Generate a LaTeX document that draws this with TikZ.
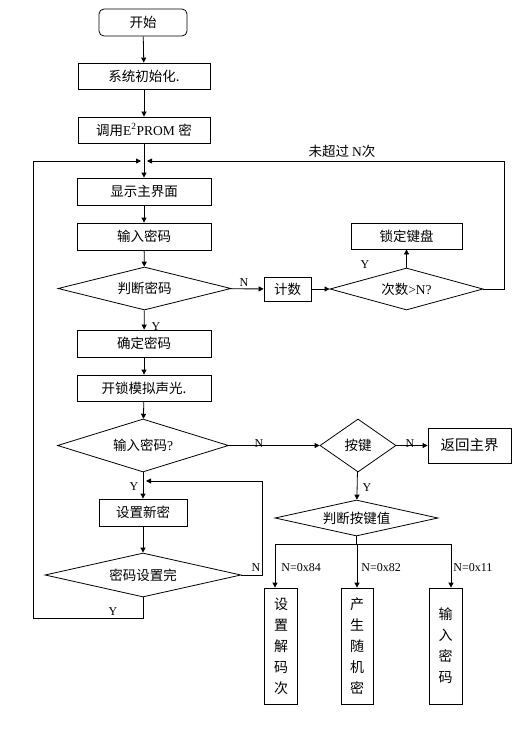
\documentclass[tikz,border=0pt]{standalone}
\usepackage{fontspec}
\setmainfont{Liberation Serif}
\newfontfamily\cjk{Noto Sans CJK SC}
\usetikzlibrary{positioning,shapes.geometric,arrows.meta}

\begin{document}
\begin{tikzpicture}[x=1pt,y=-1pt,
    >={Triangle[length=5pt,width=5pt]},
    line width=0.8pt,
    font=\fontsize{12}{14}\selectfont,
    box/.style={draw,rectangle,minimum width=#1,minimum height=27pt,
        inner sep=0pt,font=\cjk\fontsize{13.5}{15}\selectfont},
    dia/.style={draw,diamond,aspect=#1,inner sep=0pt,
        font=\cjk\fontsize{13.5}{15}\selectfont},
    vbox/.style={draw,rectangle,minimum width=33pt,minimum height=116pt,
        inner sep=0pt,align=center,font=\cjk\fontsize{14}{21}\selectfont},
    lab/.style={inner sep=0pt}]
    \useasboundingbox (0,0) rectangle (527,749);

    % main column
    \node[box=88pt,rounded corners=5pt] (start) at (143,22.5) {开始};
    \node[box=132pt,minimum height=26pt] (init) at (144,76) {系统初始化.};
    \node[box=132pt,minimum height=26pt] (eprom) at (144,130)
        {{\cjk 调用}\fontspec{Liberation Serif}E\textsuperscript{2}PROM {\cjk 密}};
    \coordinate (merge) at (144,161);
    \node[box=134pt] (show) at (144,191.5) {显示主界面};
    \node[box=134pt] (input) at (144,236.5) {输入密码};
    \node[dia=4,minimum width=173pt,minimum height=43pt] (judge) at (144.5,288.5) {判断密码};
    \node[box=134pt] (confirm) at (144,343.5) {确定密码};
    \node[box=134pt,minimum height=26pt] (unlock) at (144,388) {开锁模拟声光.};
    \node[dia=3.2,minimum width=171pt,minimum height=53pt] (inpw) at (143,445.5)
        {输入密码{\fontspec{Liberation Serif}?}};
    \node[box=88pt] (newpw) at (143,512.5) {设置新密};
    \node[dia=4.4,minimum width=196pt,minimum height=44pt] (done) at (143,575) {密码设置完};

    % counting branch
    \node[box=47pt,minimum height=24pt] (count) at (287.5,289) {计数};
    \node[dia=3.6,minimum width=153pt,minimum height=42pt] (times) at (406.5,289)
        {次数{\fontspec{Liberation Serif}>N?}};
    \node[box=111pt,minimum height=26pt] (lock) at (406.5,236) {锁定键盘};

    % key branch
    \node[dia=1.4,minimum width=76pt,minimum height=53pt] (key) at (358,445.5) {按键};
    \node[box=83pt,minimum height=35pt,font=\cjk\fontsize{14.5}{17}\selectfont] (back) at (469.5,445.5) {返回主界};
    \node[dia=4.5,minimum width=163pt,minimum height=36pt] (keyval) at (356.5,518) {判断按键值};
    \node[vbox] (set) at (281,646) {设\\置\\解\\码\\次};
    \node[vbox,minimum width=32pt] (rand) at (357,646) {产\\生\\随\\机\\密};
    \node[vbox] (enter) at (445.5,646) {输\\入\\密\\码};

    % connectors
    \draw[->] (start) -- (init);
    \draw[->] (init) -- (eprom);
    \draw (eprom) -- (merge);
    \draw[->] (merge) -- (show);
    \draw[->] (show) -- (input);
    \draw[->] (input) -- (judge);
    \draw[->] (judge) -- (confirm);
    \draw[->] (confirm) -- (unlock);
    \draw[->] (unlock) -- (inpw);
    \draw[->] (inpw) -- (newpw);
    \draw[->] (newpw) -- (done);
    \draw[->] (judge) -- (count);
    \draw[->] (count) -- (times);
    \draw[->] (times) -- (lock);
    \draw[->] (times.east) -- (504,289) -- (504,161) -- ([xshift=3pt]merge);
    \draw[->] (done.south) -- (143,618) -- (33,618) -- (33,161) -- ([xshift=-3pt]merge);
    \coordinate (back2) at (146,481);
    \draw[->] (done.east) -- (262,575) -- (262,481) -- (back2);
    \draw[->] (inpw) -- (key);
    \draw[->] (key) -- (back);
    \draw[->] (key) -- (keyval);
    \draw (keyval.south) -- (356.5,544);
    \draw (275,544) -- (451,544);
    \draw[->] (275,544) -- (set.north -| 275,0);
    \draw[->] (357,544) -- (rand.north);
    \draw[->] (451,544) -- (enter.north -| 451,0);

    % labels
    \node[lab,font=\cjk\fontsize{13.5}{15}\selectfont] at (342,151) {未超过 {\fontspec{Liberation Serif}N}次};
    \node[lab] at (244,283) {N};
    \node[lab] at (365,265) {Y};
    \node[lab] at (156,327) {Y};
    \node[lab] at (259,444) {N};
    \node[lab] at (410,444) {N};
    \node[lab] at (367,488) {Y};
    \node[lab] at (134,487) {Y};
    \node[lab] at (256,568) {N};
    \node[lab] at (113,612) {Y};
    \node[lab,anchor=west] at (281,568) {N=0x84};
    \node[lab,anchor=west] at (361,568) {N=0x82};
    \node[lab,anchor=west] at (453,568) {N=0x11};
\end{tikzpicture}
\end{document}
